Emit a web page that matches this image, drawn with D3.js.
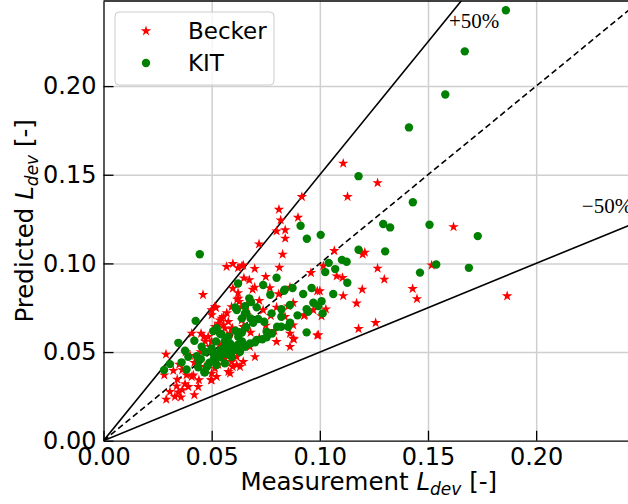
<!DOCTYPE html>
<html>
<head>
<meta charset="utf-8">
<script src="https://cdn.jsdelivr.net/npm/d3@7"></script>
<style>
  body { margin: 0; background: #fff; }
  text { font-family: "DejaVu Sans", sans-serif; }
</style>
</head>
<body>
<div id="chart"></div>
<script>
const becker = [
  [0.1866,0.0816],[0.1267,0.1454],[0.1108,0.1564],[0.1128,0.1376],[0.1618,0.1206],[0.1517,0.0990],
  [0.1429,0.0857],[0.1449,0.0800],[0.1267,0.0972],[0.1298,0.0910],[0.1196,0.0853],[0.1170,0.0775],
  [0.1108,0.0817],[0.1179,0.0631],[0.1258,0.0665],[0.0988,0.0594],[0.1000,0.0844],[0.1078,0.0928],
  [0.1105,0.0919],[0.1208,0.1062],[0.1198,0.1051],[0.1016,0.0985],[0.0959,0.0947],[0.1067,0.1071],
  [0.1028,0.0742],[0.0970,0.0737],[0.1008,0.0703],[0.0927,0.0705],[0.0917,0.1376],[0.0899,0.1259],
  [0.0840,0.1188],[0.0840,0.1141],[0.0828,0.1051],[0.0811,0.1304],[0.0819,0.1244],[0.0813,0.0977],
  [0.0800,0.1182],[0.0719,0.1109],[0.0598,0.0998],[0.0622,0.0975],[0.0640,0.0986],[0.0699,0.0970],
  [0.0649,0.0917],[0.0750,0.0925],[0.0598,0.0859],[0.0622,0.0834],[0.0689,0.0853],[0.0699,0.0865],
  [0.0769,0.0862],[0.0810,0.0827],[0.0862,0.0865],[0.0623,0.0803],[0.0627,0.0784],[0.0854,0.0759],
  [0.0877,0.0778],[0.0569,0.0981],[0.0618,0.0797],[0.0460,0.0823],[0.0520,0.0750],[0.0289,0.0487],
  [0.0281,0.0370],[0.0323,0.0395],[0.0341,0.0346],[0.0364,0.0399],[0.0384,0.0370],[0.0338,0.0308],
  [0.0307,0.0276],[0.0377,0.0320],[0.0364,0.0286],[0.0346,0.0273],[0.0330,0.0248],[0.0358,0.0245],
  [0.0290,0.0233],[0.0392,0.0304],[0.0420,0.0258],[0.0408,0.0361],[0.0441,0.0342],[0.0408,0.0605],
  [0.0451,0.0605],[0.0469,0.0417],[0.0497,0.0342],[0.0500,0.0737],[0.0554,0.0699],[0.0538,0.0680],
  [0.0577,0.0671],[0.0515,0.0643],[0.0561,0.0634],[0.0639,0.0680],[0.0685,0.0671],[0.0484,0.0586],
  [0.0500,0.0558],[0.0492,0.0530],[0.0538,0.0539],[0.0800,0.0558],[0.0862,0.0530],[0.0700,0.0473],
  [0.0616,0.0473],[0.0592,0.0445],[0.0616,0.0427],[0.0577,0.0389],[0.0515,0.0408],[0.0500,0.0380],
  [0.0500,0.0342],[0.0631,0.0417],[0.0646,0.0445],[0.0515,0.0755],[0.0646,0.0990],[0.0438,0.0304],
  [0.0464,0.0586],[0.0585,0.0605],[0.0631,0.0566],[0.0677,0.0530],[0.0585,0.0380],[0.0674,0.0906],
  [0.0773,0.0705],[0.0839,0.0699],[0.0877,0.0577],[0.0931,0.0709],[0.0993,0.0596],[0.0988,0.0844],
  [0.0738,0.0737],[0.0596,0.0634],[0.0570,0.0720],[0.0660,0.0760],[0.0720,0.0790],[0.0540,0.0480],
  [0.0560,0.0460],[0.0530,0.0430],[0.0620,0.0510],[0.0450,0.0500],[0.0420,0.0440],[0.0400,0.0480],
  [0.0350,0.0430],[0.0380,0.0500],[0.0470,0.0560],[0.0680,0.0610],[0.0750,0.0650],[0.0790,0.0620],
  [0.0720,0.0580],[0.0650,0.0640],[0.0500,0.0709],[0.0546,0.0690],[0.0531,0.0662],[0.0554,0.0652],
  [0.0592,0.0628],[0.0646,0.0643],[0.0662,0.0709],[0.0592,0.0755],[0.0639,0.0755],[0.0800,0.0752],
  [0.0877,0.0652],[0.0862,0.0605],[0.0880,0.0572],[0.0597,0.0417],[0.0523,0.0361],[0.0415,0.0370]
];

const kit = [
  [0.1860,0.2428],[0.1670,0.2196],[0.1580,0.1953],[0.1412,0.1767],[0.1430,0.1345],[0.1507,0.1218],
  [0.1730,0.1154],[0.1538,0.0994],[0.1463,0.0948],[0.1689,0.0975],[0.1179,0.1492],[0.0911,0.1212],
  [0.0940,0.1139],[0.1004,0.1161],[0.1293,0.1222],[0.1325,0.1203],[0.1179,0.1077],[0.1302,0.1068],
  [0.1041,0.1003],[0.1102,0.1020],[0.1124,0.1009],[0.1071,0.0968],[0.1025,0.0951],[0.1127,0.0891],
  [0.0962,0.0861],[0.0837,0.0851],[0.0874,0.0861],[0.0445,0.1052],[0.1062,0.0827],[0.0923,0.0827],
  [0.0970,0.0778],[0.1008,0.0787],[0.0993,0.0759],[0.0939,0.0742],[0.0946,0.0727],[0.1013,0.0718],
  [0.0939,0.0611],[0.0800,0.0919],[0.0738,0.0878],[0.0622,0.0887],[0.0835,0.0846],[0.0771,0.0823],
  [0.0674,0.0803],[0.0682,0.0782],[0.0654,0.0759],[0.0708,0.0752],[0.0823,0.0741],[0.0608,0.0752],
  [0.0777,0.0718],[0.0715,0.0686],[0.0743,0.0671],[0.0862,0.0765],[0.0897,0.0707],[0.0822,0.0699],
  [0.0803,0.0643],[0.0822,0.0643],[0.0779,0.0605],[0.0754,0.0614],[0.0692,0.0665],[0.0426,0.0676],
  [0.0523,0.0634],[0.0420,0.0564],[0.0346,0.0552],[0.0377,0.0507],[0.0392,0.0473],[0.0361,0.0442],
  [0.0307,0.0432],[0.0280,0.0399],[0.0431,0.0477],[0.0454,0.0530],[0.0469,0.0386],[0.0438,0.0414],
  [0.0523,0.0427],[0.0561,0.0436],[0.0592,0.0473],[0.0631,0.0502],[0.0654,0.0530],[0.0677,0.0549],
  [0.0708,0.0568],[0.0623,0.0586],[0.0585,0.0549],[0.0554,0.0521],[0.0507,0.0493],[0.0538,0.0605],
  [0.0577,0.0586],[0.0384,0.0402],[0.0466,0.0386],[0.0507,0.0618],[0.0616,0.0737],[0.0654,0.0718],
  [0.0734,0.0572],[0.0700,0.0555],[0.0754,0.0583],[0.0854,0.0643],[0.0862,0.0665],[0.0600,0.0510],
  [0.0570,0.0490],[0.0540,0.0470],[0.0510,0.0460],[0.0490,0.0440],[0.0480,0.0420],[0.0520,0.0560],
  [0.0560,0.0560],[0.0610,0.0620],[0.0640,0.0610],[0.0660,0.0640],[0.0680,0.0690],[0.0660,0.0720],
  [0.0640,0.0690],[0.0450,0.0460],[0.0440,0.0450],[0.0470,0.0500],[0.0540,0.0510],[0.0500,0.0520],
  [0.0580,0.0520],[0.0600,0.0530],[0.0620,0.0540],[0.0640,0.0560],[0.0545,0.0600],[0.0525,0.0480]
];

const xTicks = [0, 0.05, 0.10, 0.15, 0.20];
const yTicks = [0, 0.05, 0.10, 0.15, 0.20];
const ratios = [1.5, 1.0, 0.5];          // +50%, 1:1, -50%
const notes = [
  { label: "+50%", x: 0.1597, y: 0.2325 },
  { label: "\u221250%", x: 0.2211, y: 0.1282 }
];
const axisMax = 0.248;

const width = 628, height = 504;
const plot = { left: 103.5, right: 640, top: 1, bottom: 440.7 };

const svg = d3.select("#chart").append("svg")
  .attr("width", width)
  .attr("height", height);

const x = d3.scaleLinear().domain([0, axisMax]).range([plot.left, plot.right]);
const y = d3.scaleLinear().domain([0, axisMax]).range([plot.bottom, plot.top]);

svg.append("clipPath").attr("id", "clip")
  .append("rect")
  .attr("x", plot.left).attr("y", plot.top)
  .attr("width", plot.right - plot.left).attr("height", plot.bottom - plot.top);

// grid
const grid = svg.append("g").attr("class", "grid");
grid.append("g")
  .attr("transform", `translate(0,${plot.bottom})`)
  .call(d3.axisBottom(x).tickValues(xTicks.slice(1)).tickSize(-(plot.bottom - plot.top)).tickFormat(""))
  .call(g => g.select(".domain").remove());
grid.append("g")
  .attr("transform", `translate(${plot.left},0)`)
  .call(d3.axisLeft(y).tickValues(yTicks.slice(1)).tickSize(-(plot.right - plot.left)).tickFormat(""))
  .call(g => g.select(".domain").remove());
grid.selectAll("line").attr("stroke", "#cfcfcf").attr("stroke-width", 1.5);

// reference lines
const lines = svg.append("g").attr("clip-path", "url(#clip)");
lines.selectAll("line").data(ratios).enter().append("line")
  .attr("x1", x(0)).attr("y1", y(0))
  .attr("x2", x(axisMax)).attr("y2", r => y(axisMax * r))
  .attr("stroke", "#000")
  .attr("stroke-width", 1.6)
  .attr("stroke-dasharray", r => r === 1 ? "6,3.5" : null);

svg.selectAll("text.note").data(notes).enter().append("text")
  .attr("class", "note")
  .attr("x", d => x(d.x)).attr("y", d => y(d.y))
  .style("font-family", "'Liberation Serif', 'DejaVu Serif', serif")
  .style("font-size", "21px")
  .text(d => d.label);

// points
const star = d3.symbol().type(d3.symbolStar).size(34);
const pts = svg.append("g").attr("clip-path", "url(#clip)");
pts.selectAll("path.becker").data(becker).enter().append("path")
  .attr("class", "becker")
  .attr("d", star)
  .attr("transform", d => `translate(${x(d[0])},${y(d[1])})`)
  .attr("fill", "#ff0000");
pts.selectAll("circle.kit").data(kit).enter().append("circle")
  .attr("class", "kit")
  .attr("cx", d => x(d[0])).attr("cy", d => y(d[1]))
  .attr("r", 4.2)
  .attr("fill", "#008000");

// axes with inward ticks
const xAxis = svg.append("g")
  .attr("transform", `translate(0,${plot.bottom})`)
  .call(d3.axisBottom(x).tickValues(xTicks).tickSizeInner(-10).tickSizeOuter(0).tickPadding(7).tickFormat(d3.format(".2f")));
const yAxis = svg.append("g")
  .attr("transform", `translate(${plot.left},0)`)
  .call(d3.axisLeft(y).tickValues(yTicks).tickSizeInner(-10).tickSizeOuter(0).tickPadding(7).tickFormat(d3.format(".2f")));
[xAxis, yAxis].forEach(a => {
  a.selectAll("text").style("font-size", "24px").attr("fill", "#000");
  a.selectAll("line").attr("stroke-width", 1.3);
  a.select(".domain").attr("stroke-width", 1.3);
});

svg.append("line")
  .attr("x1", plot.left).attr("x2", plot.right)
  .attr("y1", plot.top).attr("y2", plot.top)
  .attr("stroke", "#000").attr("stroke-width", 1.3);

// axis titles
const xTitle = svg.append("text")
  .attr("x", (plot.left + plot.right) / 2 - 3)
  .attr("y", 490)
  .attr("text-anchor", "middle")
  .style("font-size", "24.5px");
xTitle.append("tspan").text("Measurement ");
xTitle.append("tspan").style("font-style", "italic").text("L");
xTitle.append("tspan").style("font-style", "italic").style("font-size", "17px").attr("dy", 5).text("dev");
xTitle.append("tspan").attr("dy", -5).text(" [-]");

const yTitle = svg.append("text")
  .attr("transform", `translate(33,${(plot.top + plot.bottom) / 2}) rotate(-90)`)
  .attr("text-anchor", "middle")
  .style("font-size", "24.5px");
yTitle.append("tspan").text("Predicted ");
yTitle.append("tspan").style("font-style", "italic").text("L");
yTitle.append("tspan").style("font-style", "italic").style("font-size", "17px").attr("dy", 5).text("dev");
yTitle.append("tspan").attr("dy", -5).text(" [-]");

// legend
const legend = svg.append("g");
legend.append("rect")
  .attr("x", 115).attr("y", 12).attr("width", 159).attr("height", 73).attr("rx", 4)
  .attr("fill", "#fff").attr("fill-opacity", 0.8)
  .attr("stroke", "#cccccc").attr("stroke-width", 1);
const items = [
  { name: "Becker", type: "star", color: "#ff0000" },
  { name: "KIT", type: "circle", color: "#008000" }
];
items.forEach((it, i) => {
  const cy = 31 + i * 32;
  if (it.type === "star") {
    legend.append("path").attr("d", star).attr("transform", `translate(146,${cy})`).attr("fill", it.color);
  } else {
    legend.append("circle").attr("cx", 146).attr("cy", cy).attr("r", 4.2).attr("fill", it.color);
  }
  legend.append("text").attr("x", 188).attr("y", cy + 8).style("font-size", "23px").text(it.name);
});
</script>
</body>
</html>
